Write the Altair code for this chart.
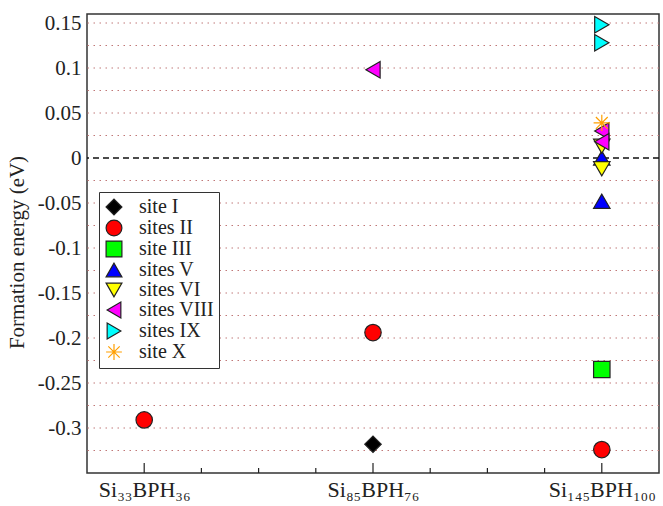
import altair as alt
import pandas as pd

# Structures along the x axis (position 1, 2, 3)
categories = ["Si₃₃BPH₃₆", "Si₈₅BPH₇₆", "Si₁₄₅BPH₁₀₀"]

# Series in legend / drawing order
series = ["site I", "sites II", "site III", "sites V", "sites VI",
          "sites VIII", "sites IX", "site X"]

# Formation energies (eV): (structure position, value)
site_I = [(2, -0.318)]
sites_II = [(1, -0.291), (2, -0.194), (3, -0.324)]
site_III = [(3, -0.235)]
sites_V = [(3, 0.0), (3, -0.048)]
sites_VI = [(3, 0.013), (3, -0.012)]
sites_VIII = [(2, 0.098), (3, 0.030), (3, 0.018)]
sites_IX = [(3, 0.148), (3, 0.128)]
site_X = [(3, 0.039)]

fills = ["#000000", "#ff0000", "#00ff00", "#0000ff", "#ffff00",
         "#ff00ff", "#00ffff", "transparent"]
strokes = ["#222222"] * 7 + ["#ff9f00"]
stroke_widths = [1.2] * 7 + [2.0]
asterisk = "M-1,0L1,0M0,-1L0,1M-0.72,-0.72L0.72,0.72M-0.72,0.72L0.72,-0.72"
shapes = ["diamond", "circle", "square", "triangle-up", "triangle-down",
          "triangle-left", "triangle-right", asterisk]

# Axis scaffolding
y_labels = [0.15, 0.1, 0.05, 0, -0.05, -0.1, -0.15, -0.2, -0.25, -0.3]
y_grid = [0.15, 0.125, 0.1, 0.075, 0.05, 0.025, -0.025, -0.05, -0.075,
          -0.1, -0.125, -0.15, -0.175, -0.2, -0.225, -0.25, -0.275,
          -0.3, -0.325]
x_major = [1, 2, 3]
x_minor = [1.25, 1.5, 1.75, 2.25, 2.5, 2.75]

rows = []
for name, pts in zip(series, [site_I, sites_II, site_III, sites_V, sites_VI,
                              sites_VIII, sites_IX, site_X]):
    for pos, val in pts:
        rows.append({"site": name, "pos": pos, "energy": val})
points_df = pd.DataFrame(rows)

FONT = "Liberation Serif"
W, H = 572, 459

x_scale = alt.Scale(domain=[0.75, 3.25], nice=False, zero=False)
y_scale = alt.Scale(domain=[-0.35, 0.16], nice=False, zero=False)

label_expr = "[" + ",".join("'%s'" % c for c in categories) + "][datum.value - 1]"
x_axis = alt.Axis(values=x_major, labelExpr=label_expr, ticks=False,
                  domain=False, grid=False, title=None, labelFont=FONT,
                  labelFontSize=22, labelColor="#222222", labelPadding=6)
y_axis = alt.Axis(values=y_labels, labelExpr="toString(datum.value)",
                  ticks=False, domain=False, grid=False,
                  title="Formation energy (eV)", titleFont=FONT,
                  titleFontSize=21, titleFontWeight="normal",
                  titleColor="#222222", titleX=-70, titleY=238,
                  titleBaseline="middle", labelFont=FONT, labelFontSize=21,
                  labelColor="#222222", labelPadding=6)

grid = alt.Chart(pd.DataFrame({"g": y_grid})).mark_rule(
    color="#c07878", strokeWidth=1, strokeDash=[1.5, 4.5]
).encode(y=alt.Y("g:Q", scale=y_scale, axis=y_axis))

zero_line = alt.Chart(pd.DataFrame({"z": [0]})).mark_rule(
    color="#111111", strokeWidth=1.3, strokeDash=[6, 4]
).encode(y=alt.Y("z:Q", scale=y_scale, axis=y_axis))

major_ticks = alt.Chart(pd.DataFrame({"t": x_major})).mark_rule(
    color="#222222", strokeWidth=1.2
).encode(x=alt.X("t:Q", scale=x_scale, axis=x_axis),
         y=alt.value(H), y2=alt.value(H - 10))

minor_ticks = alt.Chart(pd.DataFrame({"t": x_minor})).mark_rule(
    color="#222222", strokeWidth=1.2
).encode(x=alt.X("t:Q", scale=x_scale, axis=x_axis),
         y=alt.value(H), y2=alt.value(H - 5))

legend = alt.Legend(title=None, orient="none", legendX=12, legendY=178)

markers = alt.Chart(points_df).mark_point(
    filled=False, size=270, opacity=1
).encode(
    x=alt.X("pos:Q", scale=x_scale, axis=x_axis),
    y=alt.Y("energy:Q", scale=y_scale, axis=y_axis),
    fill=alt.Fill("site:N", scale=alt.Scale(domain=series, range=fills), legend=legend),
    stroke=alt.Stroke("site:N", scale=alt.Scale(domain=series, range=strokes), legend=legend),
    shape=alt.Shape("site:N", scale=alt.Scale(domain=series, range=shapes), legend=legend),
    strokeWidth=alt.StrokeWidth("site:N", scale=alt.Scale(domain=series, range=stroke_widths), legend=None),
)

chart = alt.layer(grid, zero_line, major_ticks, minor_ticks, markers).properties(
    width=W, height=H,
    autosize=alt.AutoSizeParams(type="none"),
    padding={"left": 87, "top": 14, "right": 4, "bottom": 33},
).configure(
    font=FONT
).configure_view(
    stroke="#333333", strokeWidth=1.5
).configure_axis(
    labelFont=FONT, titleFont=FONT
).configure_legend(
    strokeColor="#333333", fillColor="white", padding=5, rowPadding=-2.6,
    labelFont=FONT, labelFontSize=20, labelColor="#222222", labelOffset=15,
    symbolSize=250, symbolStrokeWidth=1.2, labelLimit=0, cornerRadius=0
)

chart.save("out.html", embed_options={"renderer": "svg", "actions": False})
